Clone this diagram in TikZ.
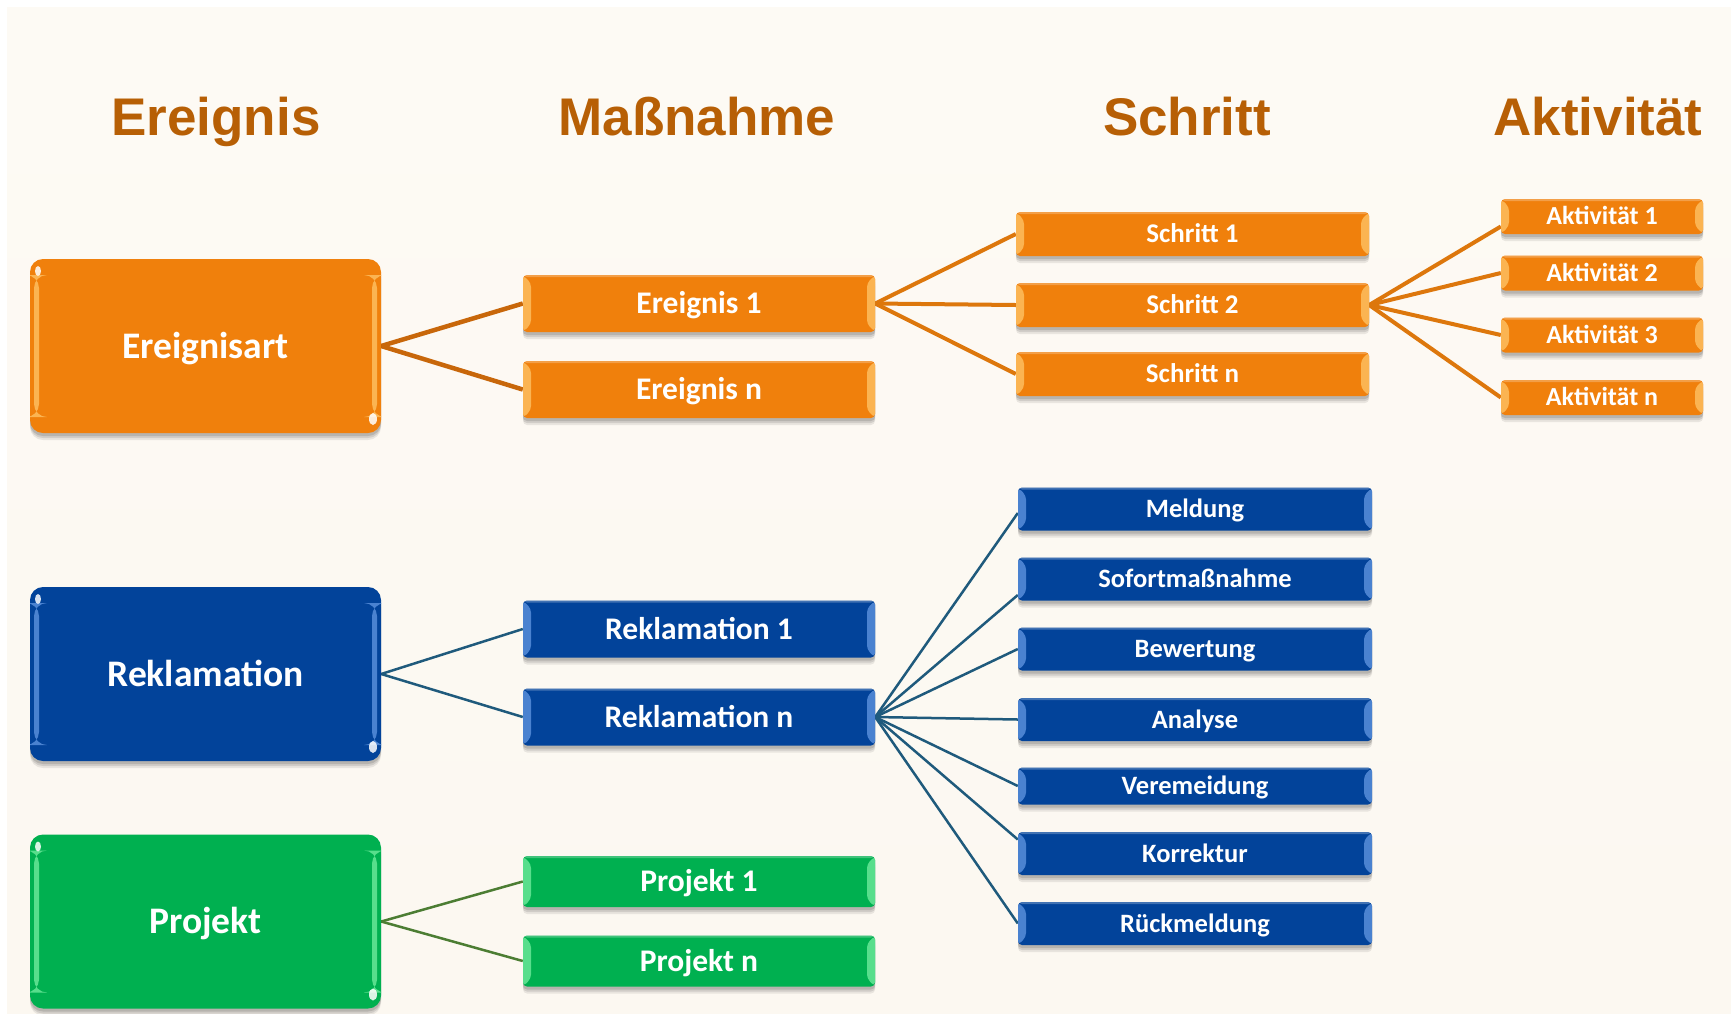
\documentclass[tikz,border=0pt]{standalone}
\usepackage{fontspec}
\setmainfont{Carlito}
\newfontfamily\headfont{Liberation Sans}
\usetikzlibrary{shadows}
\definecolor{bgtop}{HTML}{FDFAF4}
\definecolor{bgmid}{HTML}{FDF2E6}
\definecolor{bgbot}{HTML}{FCF8F1}
\definecolor{headc}{HTML}{B75F05}
\definecolor{orf}{HTML}{F0800C}
\definecolor{orl}{HTML}{FBB452}
\definecolor{orline}{HTML}{C8670A}
\definecolor{orlinetwo}{HTML}{DD770C}
\definecolor{blf}{HTML}{02439A}
\definecolor{bll}{HTML}{4A82D0}
\definecolor{blline}{HTML}{1F5A7C}
\definecolor{grf}{HTML}{00B050}
\definecolor{grl}{HTML}{58DE8C}
\definecolor{grline}{HTML}{4C7D33}
\pgfdeclarelayer{bg}
\pgfsetlayers{bg,main}
\tikzset{
  softshadow/.style={
    general shadow={shadow xshift=0pt, shadow yshift=-7pt, opacity=0.08, fill=black},
    general shadow={shadow xshift=0pt, shadow yshift=-5pt, opacity=0.1, fill=black},
    general shadow={shadow xshift=0pt, shadow yshift=-3pt, opacity=0.12, fill=black}},
  box/.style={draw=none, inner sep=0pt, text=white, softshadow, text depth=0pt},
  bevel/.style={path picture={
    \fill[#1] (path picture bounding box.north west) -- ++(8pt,-8pt)
      -- ([shift={(8pt,8pt)}]path picture bounding box.south west)
      -- (path picture bounding box.south west) -- cycle;
    \fill[#1] (path picture bounding box.north east) -- ++(-8pt,-8pt)
      -- ([shift={(-8pt,8pt)}]path picture bounding box.south east)
      -- (path picture bounding box.south east) -- cycle;
    \fill[white, opacity=0.25] (path picture bounding box.north west) rectangle ([shift={(0pt,-2pt)}]path picture bounding box.north east);
  }},
  bigdeco/.style={path picture={
    \fill[#1] ([shift={(4pt,-16pt)}]path picture bounding box.north west) rectangle ([shift={(9pt,16pt)}]path picture bounding box.south west);
    \fill[#1] ([shift={(-4pt,-16pt)}]path picture bounding box.north east) rectangle ([shift={(-9pt,16pt)}]path picture bounding box.south east);
    \fill[white, opacity=0.85] ([shift={(8pt,-12pt)}]path picture bounding box.north west) ellipse (3pt and 5pt);
    \fill[white, opacity=0.85] ([shift={(-8pt,14pt)}]path picture bounding box.south east) ellipse (4pt and 6pt);
  }},
  big/.style={box, rounded corners=13pt, minimum width=351pt, minimum height=174pt,
    font=\bfseries\fontsize{37.5}{37.5}\selectfont, text height=24.1pt},
  bigor/.style={big, fill=orf, bigdeco=orl},
  bigbl/.style={big, fill=blf, bigdeco=bll},
  biggr/.style={big, fill=grf, bigdeco=grl},
  ev/.style={box, rounded corners=4pt, minimum width=352pt, minimum height=57pt,
    fill=orf, bevel=orl, font=\bfseries\fontsize{31.5}{31.5}\selectfont, text height=20.3pt},
  sc/.style={box, rounded corners=4pt, minimum width=353pt, minimum height=44pt,
    fill=orf, bevel=orl, font=\bfseries\fontsize{27}{27}\selectfont, text height=17.4pt},
  ak/.style={box, rounded corners=4pt, minimum width=202pt, minimum height=35pt,
    fill=orf, bevel=orl, font=\bfseries\fontsize{26}{26}\selectfont, text height=16.7pt},
  rk/.style={box, rounded corners=4pt, minimum width=352pt, minimum height=57pt,
    fill=blf, bevel=bll, font=\bfseries\fontsize{31.5}{31.5}\selectfont, text height=20.3pt},
  ms/.style={box, rounded corners=4pt, minimum width=354pt, minimum height=43pt,
    fill=blf, bevel=bll, font=\bfseries\fontsize{26.5}{26.5}\selectfont, text height=17.1pt},
  pj/.style={box, rounded corners=4pt, minimum width=352pt, minimum height=51pt,
    fill=grf, bevel=grl, font=\bfseries\fontsize{31.5}{31.5}\selectfont, text height=20.3pt},
  head/.style={anchor=base, inner sep=0pt, text=headc,
    font=\headfont\bfseries\fontsize{53}{53}\selectfont},
  orc/.style={draw=orline, line width=4.5pt},
  orctwo/.style={draw=orlinetwo, line width=4pt},
  blc/.style={draw=blline, line width=2.5pt},
  grc/.style={draw=grline, line width=2.5pt},
}
\begin{document}
\begin{tikzpicture}[x=1pt, y=-1pt]
\useasboundingbox (0,0) rectangle (1731,1013);
\begin{pgfonlayer}{bg}
  \fill[white] (0,0) rectangle (1731,1013);
  \shade[top color=bgtop, middle color=bgmid, bottom color=bgbot] (7,7) rectangle (1731,1013);
\end{pgfonlayer}

% headings
\node[head] (h1) at (216,135) {Ereignis};
\node[head] (h2) at (697,135) {Maßnahme};
\node[head] (h3) at (1187,135) {Schritt};
\node[head] (h4) at (1598,135) {Aktivität};

% orange group
\node[bigor] (ea) at (205.5,346) {Ereignisart};
\node[ev] (e1) at (699,303.5) {Ereignis 1};
\node[ev] (en) at (699,389.5) {Ereignis n};
\node[sc] (s1) at (1192.5,234) {Schritt 1};
\node[sc] (s2) at (1192.5,305) {Schritt 2};
\node[sc] (sn) at (1192.5,374) {Schritt n};
\node[ak] (a1) at (1602,216.5) {Aktivität 1};
\node[ak] (a2) at (1602,273) {Aktivität 2};
\node[ak] (a3) at (1602,335) {Aktivität 3};
\node[ak] (an) at (1602,397.5) {Aktivität n};

% blue group
\node[bigbl] (rk) at (205.5,674) {Reklamation};
\node[rk] (r1) at (699,629) {Reklamation 1};
\node[rk] (rn) at (699,717) {Reklamation n};
\node[ms] (m1) at (1195,509) {Meldung};
\node[ms] (m2) at (1195,579) {Sofortmaßnahme};
\node[ms] (m3) at (1195,649) {Bewertung};
\node[ms] (m4) at (1195,719.5) {Analyse};
\node[ms, minimum height=37pt] (m5) at (1195,786) {Veremeidung};
\node[ms] (m6) at (1195,853.5) {Korrektur};
\node[ms] (m7) at (1195,923.5) {Rückmeldung};

% green group
\node[biggr] (pk) at (205.5,921.5) {Projekt};
\node[pj] (p1) at (699,881.5) {Projekt 1};
\node[pj] (pn) at (699,961) {Projekt n};

% connectors
\begin{pgfonlayer}{bg}
  \draw[orc] (ea.east) -- (e1.west);
  \draw[orc] (ea.east) -- (en.west);
  \draw[orctwo] (e1.east) -- (s1.west);
  \draw[orctwo] (e1.east) -- (s2.west);
  \draw[orctwo] (e1.east) -- (sn.west);
  \draw[orctwo] (s2.east) -- ([yshift=-10pt]a1.west);
  \draw[orctwo] (s2.east) -- (a2.west);
  \draw[orctwo] (s2.east) -- (a3.west);
  \draw[orctwo] (s2.east) -- (an.west);
  \draw[blc] (rk.east) -- (r1.west);
  \draw[blc] (rk.east) -- (rn.west);
  \draw[blc] (rn.east) -- ([yshift=-4pt]m1.west);
  \draw[blc] (rn.east) -- ([yshift=-16pt]m2.west);
  \draw[blc] (rn.east) -- (m3.west);
  \draw[blc] (rn.east) -- (m4.west);
  \draw[blc] (rn.east) -- (m5.west);
  \draw[blc] (rn.east) -- ([yshift=14pt]m6.west);
  \draw[blc] (rn.east) -- (m7.west);
  \draw[grc] (pk.east) -- (p1.west);
  \draw[grc] (pk.east) -- (pn.west);
\end{pgfonlayer}
\end{tikzpicture}
\end{document}
